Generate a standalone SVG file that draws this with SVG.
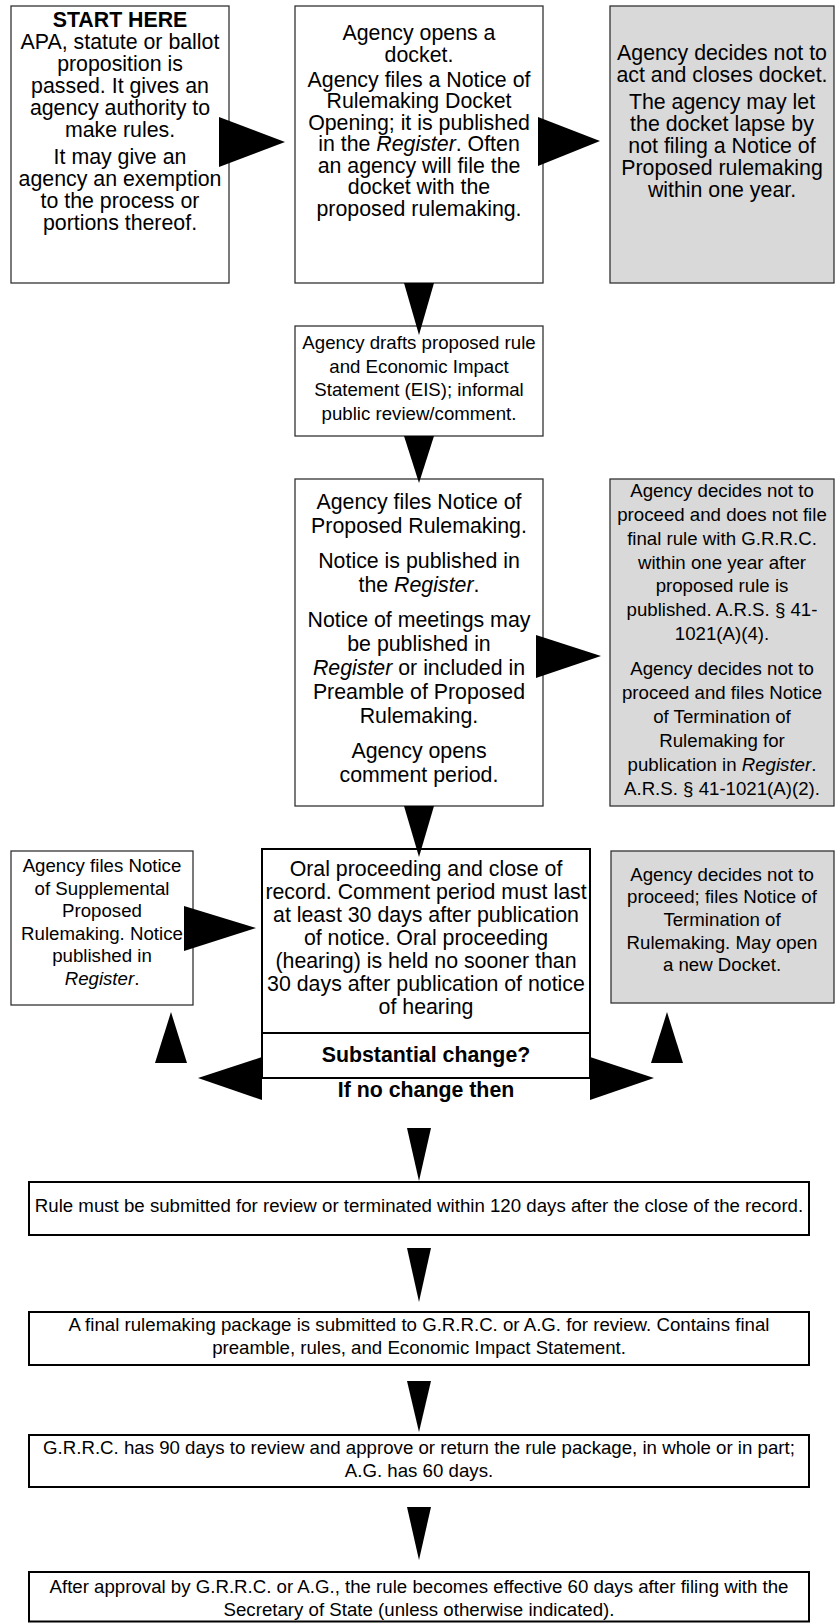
<svg xmlns="http://www.w3.org/2000/svg" width="837" height="1623" viewBox="0 0 837 1623">
<style>
.bx{fill:#ffffff;stroke:#333333;stroke-width:1.3}
.gy{fill:#d9d9d9;stroke:#333333;stroke-width:1.3}
.bk{fill:#ffffff;stroke:#000000;stroke-width:2}
.t16{font-family:"Liberation Sans",Arial,sans-serif;font-size:21.33px;fill:#000;text-anchor:middle}
.t14{font-family:"Liberation Sans",Arial,sans-serif;font-size:18.67px;fill:#000;text-anchor:middle}
.b{font-weight:bold}
.i{font-style:italic}
.ar{fill:#000;stroke:none}
</style>
<rect width="837" height="1623" fill="#ffffff"/>

<g id="start">
<rect class="bx" x="11" y="6" width="218" height="277"/>
<text class="t16 b" x="120" y="27">START HERE</text>
<text class="t16" x="120" y="49">APA, statute or ballot</text>
<text class="t16" x="120" y="71">proposition is</text>
<text class="t16" x="120" y="93">passed. It gives an</text>
<text class="t16" x="120" y="115">agency authority to</text>
<text class="t16" x="120" y="137">make rules.</text>
<text class="t16" x="120" y="164">It may give an</text>
<text class="t16" x="120" y="186">agency an exemption</text>
<text class="t16" x="120" y="208">to the process or</text>
<text class="t16" x="120" y="230">portions thereof.</text>
</g>

<g id="docket">
<rect class="bx" x="295" y="6" width="248" height="277"/>
<text class="t16" x="419" y="40">Agency opens a</text>
<text class="t16" x="419" y="61.5">docket.</text>
<text class="t16" x="419" y="86.5">Agency files a Notice of</text>
<text class="t16" x="419" y="108">Rulemaking Docket</text>
<text class="t16" x="419" y="129.5">Opening; it is published</text>
<text class="t16" x="419" y="151">in the <tspan class="i">Register</tspan>. Often</text>
<text class="t16" x="419" y="172.5">an agency will file the</text>
<text class="t16" x="419" y="194">docket with the</text>
<text class="t16" x="419" y="215.5">proposed rulemaking.</text>
</g>

<g id="closes">
<rect class="gy" x="610" y="6" width="224" height="277"/>
<text class="t16" x="722" y="60">Agency decides not to</text>
<text class="t16" x="722" y="82">act and closes docket.</text>
<text class="t16" x="722" y="109">The agency may let</text>
<text class="t16" x="722" y="131">the docket lapse by</text>
<text class="t16" x="722" y="153">not filing a Notice of</text>
<text class="t16" x="722" y="175">Proposed rulemaking</text>
<text class="t16" x="722" y="197">within one year.</text>
</g>

<g id="drafts">
<rect class="bx" x="295" y="326" width="248" height="110"/>
<text class="t14" x="419" y="349">Agency drafts proposed rule</text>
<text class="t14" x="419" y="372.5">and Economic Impact</text>
<text class="t14" x="419" y="396">Statement (EIS); informal</text>
<text class="t14" x="419" y="419.5">public review/comment.</text>
</g>

<g id="proposed">
<rect class="bx" x="295" y="479" width="248" height="327"/>
<text class="t16" x="419" y="509">Agency files Notice of</text>
<text class="t16" x="419" y="533">Proposed Rulemaking.</text>
<text class="t16" x="419" y="568">Notice is published in</text>
<text class="t16" x="419" y="592">the <tspan class="i">Register</tspan>.</text>
<text class="t16" x="419" y="627">Notice of meetings may</text>
<text class="t16" x="419" y="651">be published in</text>
<text class="t16" x="419" y="675"><tspan class="i">Register</tspan> or included in</text>
<text class="t16" x="419" y="699">Preamble of Proposed</text>
<text class="t16" x="419" y="723">Rulemaking.</text>
<text class="t16" x="419" y="758">Agency opens</text>
<text class="t16" x="419" y="782">comment period.</text>
</g>

<g id="notproceed">
<rect class="gy" x="610" y="479" width="224" height="327"/>
<text class="t14" x="722" y="497">Agency decides not to</text>
<text class="t14" x="722" y="521">proceed and does not file</text>
<text class="t14" x="722" y="545">final rule with G.R.R.C.</text>
<text class="t14" x="722" y="569">within one year after</text>
<text class="t14" x="722" y="592">proposed rule is</text>
<text class="t14" x="722" y="616">published. A.R.S. § 41-</text>
<text class="t14" x="722" y="640">1021(A)(4).</text>
<text class="t14" x="722" y="675">Agency decides not to</text>
<text class="t14" x="722" y="699">proceed and files Notice</text>
<text class="t14" x="722" y="723">of Termination of</text>
<text class="t14" x="722" y="747">Rulemaking for</text>
<text class="t14" x="722" y="771">publication in <tspan class="i">Register</tspan>.</text>
<text class="t14" x="722" y="795">A.R.S. § 41-1021(A)(2).</text>
</g>

<g id="supplemental">
<rect class="bx" x="11" y="851" width="182" height="154"/>
<text class="t14" x="102" y="872">Agency files Notice</text>
<text class="t14" x="102" y="894.5">of Supplemental</text>
<text class="t14" x="102" y="917">Proposed</text>
<text class="t14" x="102" y="939.5">Rulemaking. Notice</text>
<text class="t14" x="102" y="962">published in</text>
<text class="t14" x="102" y="984.5"><tspan class="i">Register</tspan>.</text>
</g>

<g id="oral">
<rect class="bk" x="262" y="849" width="328" height="229"/>
<line x1="262" y1="1033" x2="590" y2="1033" stroke="#000" stroke-width="2"/>
<text class="t16" x="426" y="876">Oral proceeding and close of</text>
<text class="t16" x="426" y="899">record. Comment period must last</text>
<text class="t16" x="426" y="922">at least 30 days after publication</text>
<text class="t16" x="426" y="945">of notice. Oral proceeding</text>
<text class="t16" x="426" y="968">(hearing) is held no sooner than</text>
<text class="t16" x="426" y="991">30 days after publication of notice</text>
<text class="t16" x="426" y="1014">of hearing</text>
<text class="t16 b" x="426" y="1062">Substantial change?</text>
<text class="t16 b" x="426" y="1097">If no change then</text>
</g>

<g id="terminate">
<rect class="gy" x="611" y="851" width="223" height="152"/>
<text class="t14" x="722" y="881">Agency decides not to</text>
<text class="t14" x="722" y="903">proceed; files Notice of</text>
<text class="t14" x="722" y="926">Termination of</text>
<text class="t14" x="722" y="949">Rulemaking. May open</text>
<text class="t14" x="722" y="971">a new Docket.</text>
</g>

<g id="submit120">
<rect class="bk" x="29" y="1182" width="780" height="53"/>
<text class="t14" x="419" y="1212">Rule must be submitted for review or terminated within 120 days after the close of the record.</text>
</g>

<g id="package">
<rect class="bk" x="29" y="1312" width="780" height="53"/>
<text class="t14" x="419" y="1331">A final rulemaking package is submitted to G.R.R.C. or A.G. for review. Contains final</text>
<text class="t14" x="419" y="1354">preamble, rules, and Economic Impact Statement.</text>
</g>

<g id="review">
<rect class="bk" x="29" y="1435" width="780" height="52"/>
<text class="t14" x="419" y="1453.5">G.R.R.C. has 90 days to review and approve or return the rule package, in whole or in part;</text>
<text class="t14" x="419" y="1476.5">A.G. has 60 days.</text>
</g>

<g id="effective">
<rect class="bk" x="29" y="1572" width="780" height="49.5"/>
<text class="t14" x="419" y="1593">After approval by G.R.R.C. or A.G., the rule becomes effective 60 days after filing with the</text>
<text class="t14" x="419" y="1615.5">Secretary of State (unless otherwise indicated).</text>
</g>

<g id="connectors">
<polygon class="ar" points="219,117 219,167 285,142"/>
<polygon class="ar" points="538,117 538,166 600,141"/>
<polygon class="ar" points="404,283 434,283 419,335"/>
<polygon class="ar" points="404,436 434,436 419,483"/>
<polygon class="ar" points="536,635 536,678 601,656"/>
<polygon class="ar" points="404,806 434,806 419,857"/>
<polygon class="ar" points="184,906 184,951 256,928"/>
<polygon class="ar" points="155,1063 187,1063 171,1012"/>
<polygon class="ar" points="651,1063 683,1063 667,1012"/>
<polygon class="ar" points="262,1057 262,1100 198,1078"/>
<polygon class="ar" points="590,1057 590,1100 654,1078"/>
<polygon class="ar" points="407,1128 431,1128 419,1181"/>
<polygon class="ar" points="407,1248 431,1248 419,1302"/>
<polygon class="ar" points="407,1381 431,1381 419,1432"/>
<polygon class="ar" points="407,1507 431,1507 419,1560"/>
</g>
</svg>
